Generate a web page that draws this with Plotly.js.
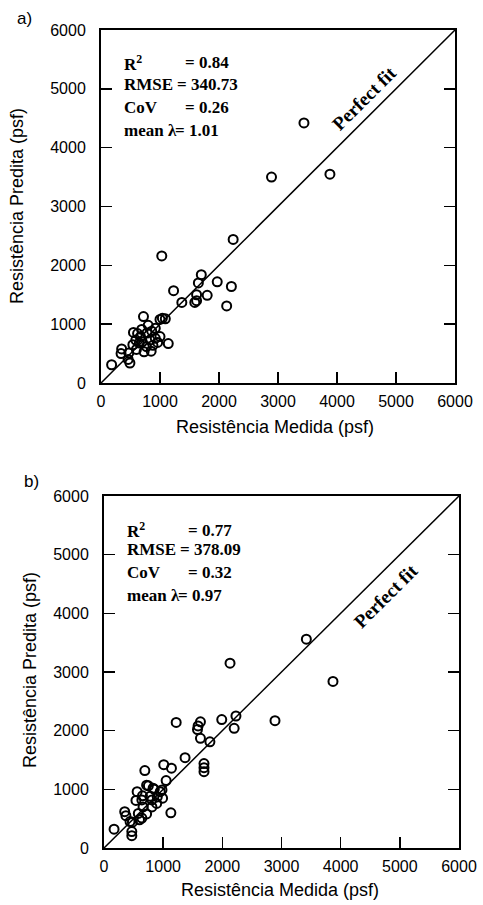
<!DOCTYPE html>
<html>
<head>
<meta charset="utf-8">
<script src="https://cdn.plot.ly/plotly-3.0.1.min.js"></script>
<style>
html,body{margin:0;padding:0;background:#fff;}
#chart{width:483px;height:905px;}
</style>
</head>
<body>
<div id="chart"></div>
<script>
// Panel a) measured vs predicted resistance (psf)
const aMeasured = [180,350,340,470,460,490,720,550,590,690,670,860,830,920,770,730,850,650,1000,1140,1000,1090,1040,1370,920,600,540,780,960,700,620,1030,1230,1620,1590,1620,1800,1650,1700,1970,2210,2130,2240,2890,3440,3880,800,880];
const aPredicted = [310,580,500,510,400,340,1130,860,730,910,790,880,730,760,620,530,540,680,790,670,1080,1090,1100,1370,930,570,650,850,690,700,840,2160,1570,1400,1370,1500,1490,1700,1840,1720,1640,1310,2440,3500,4420,3550,980,640];

// Panel b)
const bMeasured = [170,350,370,480,470,470,580,720,640,1130,660,810,540,650,810,900,560,750,850,980,990,1050,690,1010,1140,1370,1220,1590,1630,1580,1630,1790,1990,2230,2200,2890,2130,3420,3870,1690,1690,1690,890,600,440,780,950,640,720,830];
const bPredicted = [320,620,550,440,280,210,590,580,510,600,700,700,810,890,820,870,960,1060,1000,990,850,1150,1320,1420,1360,1540,2140,2080,2150,2020,1870,1810,2190,2250,2040,2170,3150,3560,2840,1440,1370,1300,760,480,450,880,960,820,1070,1020];

const perfectFit = [0, 6000];
const tickVals = [0,1000,2000,3000,4000,5000,6000];
const tickText = ['0','1000','2000','3000','4000','5000','6000'];

const statLabels = ['R<sup>2</sup>','RMSE','CoV','mean λ'];
const statsA = ['= 0.84','= 340.73','= 0.26','= 1.01'];
const statsB = ['= 0.77','= 378.09','= 0.32','= 0.97'];

const xTitle = 'Resistência Medida (psf)';
const yTitle = 'Resistência Predita (psf)';
const fitLabel = 'Perfect fit';

const W = 483, H = 905;
const sans = 'Liberation Sans, Arial, sans-serif';
const marker = {symbol:'circle-open', size:9, color:'#000', line:{width:2, color:'#000'}};
const fitLine = {color:'#000', width:1.5};

const traces = [
  {x:perfectFit, y:perfectFit, mode:'lines', line:fitLine, xaxis:'x', yaxis:'y', hoverinfo:'skip'},
  {x:aMeasured, y:aPredicted, mode:'markers', marker:marker, xaxis:'x', yaxis:'y'},
  {x:perfectFit, y:perfectFit, mode:'lines', line:fitLine, xaxis:'x2', yaxis:'y2', hoverinfo:'skip'},
  {x:bMeasured, y:bPredicted, mode:'markers', marker:marker, xaxis:'x2', yaxis:'y2'}
];

function xax(domain, anchor){
  return {domain:domain, anchor:anchor, range:[0,6000], tickvals:tickVals, ticktext:tickText,
    ticks:'inside', ticklen:11, tickwidth:1.5, tickcolor:'#000', showline:true, linewidth:2, linecolor:'#000',
    mirror:true, showgrid:false, zeroline:false, ticklabelstandoff:3, tickfont:{family:sans, size:16, color:'#000'}};
}
function yax(domain, anchor){
  return {domain:domain, anchor:anchor, range:[0,6000], tickvals:tickVals, ticktext:tickText,
    ticks:'inside', ticklen:11, tickwidth:1.5, tickcolor:'#000', showline:true, linewidth:2, linecolor:'#000',
    mirror:'ticks', showgrid:false, zeroline:false, ticklabelstandoff:10, tickfont:{family:sans, size:16, color:'#000'}};
}

const serif = {family:'Liberation Serif, Times New Roman, serif', size:17, color:'#000'};
const valueOffsets = [1030, 900, 1030, 865];
const ann = [];
function addStats(vals, xref, yref, x0, ys){
  vals.forEach((v,i)=>{
    ann.push({xref:xref, yref:yref, x:x0, y:ys[i], xanchor:'left', yanchor:'middle', text:'<b>'+statLabels[i]+'</b>', showarrow:false, font:serif});
    ann.push({xref:xref, yref:yref, x:x0+valueOffsets[i], y:ys[i], xanchor:'left', yanchor:'middle', text:'<b>'+v+'</b>', showarrow:false, font:serif});
  });
}
addStats(statsA, 'x', 'y', 356, [5440,5070,4680,4300]);
addStats(statsB, 'x2', 'y2', 355, [5420,5080,4690,4310]);

const fitFont = {family:'Liberation Serif, Times New Roman, serif', size:19, color:'#000'};
ann.push({xref:'x', yref:'y', x:4460, y:4830, text:'<b>'+fitLabel+'</b>', textangle:-45, showarrow:false, font:fitFont});
ann.push({xref:'x2', yref:'y2', x:4750, y:4295, text:'<b>'+fitLabel+'</b>', textangle:-45, showarrow:false, font:fitFont});

const titleFont = {family:sans, size:18, color:'#000'};
ann.push({xref:'paper', yref:'paper', x:275/W, y:1-427/H, xanchor:'center', yanchor:'middle', text:xTitle, showarrow:false, font:titleFont});
ann.push({xref:'paper', yref:'paper', x:280/W, y:1-890/H, xanchor:'center', yanchor:'middle', text:xTitle, showarrow:false, font:titleFont});
ann.push({xref:'paper', yref:'paper', x:17/W, y:1-206/H, xanchor:'center', yanchor:'middle', text:yTitle, textangle:-90, showarrow:false, font:titleFont});
ann.push({xref:'paper', yref:'paper', x:30/W, y:1-670/H, xanchor:'center', yanchor:'middle', text:yTitle, textangle:-90, showarrow:false, font:titleFont});

ann.push({xref:'paper', yref:'paper', x:24/W, y:1-18/H, xanchor:'center', yanchor:'middle', text:'a)', showarrow:false, font:{family:sans, size:17, color:'#000'}});
ann.push({xref:'paper', yref:'paper', x:31/W, y:1-481/H, xanchor:'center', yanchor:'middle', text:'b)', showarrow:false, font:{family:sans, size:17, color:'#000'}});

const layout = {
  width:W, height:H, margin:{l:0,r:0,t:0,b:0}, paper_bgcolor:'#fff', plot_bgcolor:'#fff', showlegend:false,
  xaxis: xax([101/W, 455/W], 'y'),
  yaxis: yax([1-383/H, 1-30/H], 'x'),
  xaxis2: xax([104/W, 459/W], 'y2'),
  yaxis2: yax([1-848/H, 1-496/H], 'x2'),
  annotations: ann
};

Plotly.newPlot('chart', traces, layout, {staticPlot:true, displayModeBar:false});
</script>
</body>
</html>
